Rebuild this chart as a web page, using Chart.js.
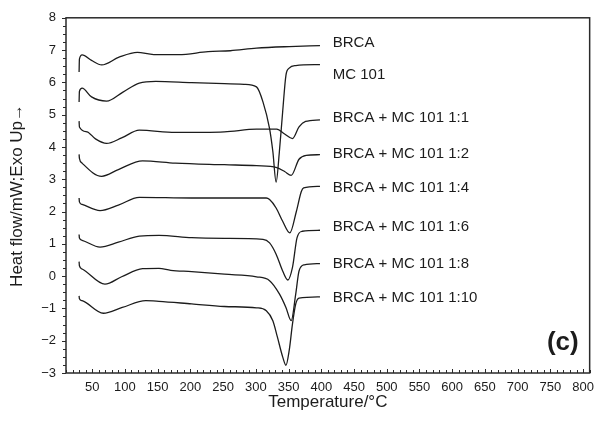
<!DOCTYPE html>
<html><head><meta charset="utf-8">
<script src="https://cdn.jsdelivr.net/npm/chart.js@4.4.0/dist/chart.umd.min.js"></script>
<style>html,body{margin:0;padding:0;background:#fff}#wrap{width:601px;height:423px}</style>
</head><body><div id="wrap"><canvas id="c" width="601" height="423"></canvas></div>
<script>
// ---- data (temperature °C, heat flow mW) ----
const seriesNames = ["BRCA","MC 101","BRCA + MC 101 1:1","BRCA + MC 101 1:2","BRCA + MC 101 1:4","BRCA + MC 101 1:6","BRCA + MC 101 1:8","BRCA + MC 101 1:10"];

const tBRCA = [30, 30.5, 34.6, 49, 64.5, 91, 119, 144, 182, 227, 261, 301, 351, 398];
const vBRCA = [6.32, 6.72, 6.85, 6.68, 6.54, 6.78, 6.93, 6.86, 6.86, 6.95, 6.98, 7.06, 7.11, 7.14];

const tMC = [30, 30.5, 34.6, 49, 72, 97, 122, 147, 202, 252, 282, 301, 311, 321, 326, 331, 336, 341, 346, 351, 361, 398];
const vMC = [5.39, 5.72, 5.82, 5.55, 5.42, 5.70, 5.98, 6.03, 5.99, 5.96, 5.94, 5.86, 5.39, 4.57, 3.86, 2.91, 3.86, 5.09, 6.22, 6.44, 6.52, 6.55];

const t11 = [30, 30.5, 42, 55, 72, 95, 122, 177, 252, 301, 321, 332, 344, 356, 366, 376, 398];
const v11 = [4.80, 4.62, 4.47, 4.25, 4.11, 4.28, 4.52, 4.45, 4.47, 4.55, 4.55, 4.55, 4.40, 4.26, 4.62, 4.79, 4.84];

const t12 = [30, 30.5, 34.6, 64.5, 90, 127, 177, 252, 301, 332, 344, 354, 366, 377, 398];
const v12 = [3.77, 3.65, 3.50, 3.09, 3.30, 3.57, 3.50, 3.45, 3.42, 3.36, 3.24, 3.12, 3.62, 3.74, 3.76];

const t14 = [30, 30.5, 34.6, 62, 90, 122, 202, 316, 321, 331, 341, 352, 362, 369.5, 373, 398];
const v14 = [2.42, 2.30, 2.22, 2.03, 2.20, 2.44, 2.42, 2.42, 2.37, 2.11, 1.70, 1.34, 2.01, 2.62, 2.73, 2.78];

const t16 = [30, 30.5, 34.6, 62, 90, 122, 152, 202, 252, 311, 321, 331, 341, 349, 356, 363, 371, 398];
const v16 = [1.29, 1.18, 1.11, 0.90, 1.05, 1.24, 1.26, 1.19, 1.17, 1.14, 1.03, 0.68, 0.16, -0.12, 0.27, 1.19, 1.39, 1.42];

const t18 = [30, 30.5, 34.6, 69.5, 95, 127, 152, 170, 202, 252, 301, 321, 336, 346, 354, 361, 366, 374, 398];
const v18 = [0.45, 0.32, 0.22, -0.25, -0.02, 0.23, 0.24, 0.18, 0.14, 0.06, -0.02, -0.14, -0.55, -0.97, -1.38, -0.55, 0.16, 0.35, 0.39];

const t110 = [30, 30.5, 34.6, 67, 96, 132, 152, 202, 252, 301, 316, 326, 333, 341, 346, 351, 356, 361, 366, 398];
const v110 = [-0.61, -0.70, -0.76, -1.15, -0.97, -0.76, -0.78, -0.86, -0.94, -0.98, -1.07, -1.38, -1.89, -2.50, -2.76, -2.30, -1.48, -0.86, -0.68, -0.64];

const xTicks = [50,100,150,200,250,300,350,400,450,500,550,600,650,700,750,800];
const yTicks = [-3,-2,-1,0,1,2,3,4,5,6,7,8];

// curve label anchors (data space)
const labelT = 417.5;
const labelV = [7.21, 6.22, 4.90, 3.80, 2.73, 1.53, 0.39, -0.66];
const panelText = "(c)";
const panelT = 769, panelV = -2.08;

const tArr = [tBRCA, tMC, t11, t12, t14, t16, t18, t110];
const vArr = [vBRCA, vMC, v11, v12, v14, v16, v18, v110];

const FONT = '"Liberation Sans", Arial, Helvetica, sans-serif';
const INK = '#1c1c1c';

const datasets = seriesNames.map((n, i) => ({
  label: n,
  data: tArr[i].map((t, j) => ({x: t, y: vArr[i][j]})),
  borderColor: INK,
  borderWidth: 1.3,
  pointRadius: 0,
  fill: false,
  cubicInterpolationMode: 'monotone'
}));

const decor = {
  id: 'decor',
  afterDraw(chart) {
    const {ctx, chartArea: a, scales: {x, y}} = chart;
    ctx.save();
    ctx.strokeStyle = '#2a2a2a';
    ctx.lineWidth = 1;
    ctx.beginPath();
    for (let k = 0; k <= 80; k++) {
      const t = 10 + 10 * k;
      const px = Math.round(x.getPixelForValue(t)) + 0.5;
      const len = xTicks.includes(t) ? 4 : 3;
      ctx.moveTo(px, a.bottom); ctx.lineTo(px, a.bottom - len);
    }
    for (let k = 0; k <= 44; k++) {
      const v = -3 + 0.25 * k;
      const py = Math.round(y.getPixelForValue(v)) + 0.5;
      const len = (k % 4 === 0) ? 4 : 3;
      ctx.moveTo(a.left, py); ctx.lineTo(a.left - len, py);
    }
    ctx.stroke();
    ctx.lineWidth = 1.5;
    ctx.strokeStyle = '#2a2a2a';
    ctx.strokeRect(a.left, a.top, a.right - a.left, a.bottom - a.top);

    ctx.fillStyle = INK;
    ctx.font = '15px ' + FONT;
    ctx.textAlign = 'left';
    ctx.textBaseline = 'middle';
    seriesNames.forEach((n, i) => {
      ctx.fillText(n, x.getPixelForValue(labelT), y.getPixelForValue(labelV[i]));
    });
    ctx.font = 'bold 26px ' + FONT;
    ctx.textAlign = 'center';
    ctx.fillText(panelText, x.getPixelForValue(panelT), y.getPixelForValue(panelV));
    ctx.restore();
  }
};

new Chart(document.getElementById('c'), {
  type: 'line',
  data: {datasets},
  options: {
    responsive: false,
    animation: false,
    layout: {padding: {top: 15, right: 3, left: 0, bottom: 0}},
    plugins: {legend: {display: false}, tooltip: {enabled: false}},
    scales: {
      x: {
        type: 'linear', min: 10, max: 810,
        afterBuildTicks: s => { s.ticks = xTicks.map(v => ({value: v})); },
        afterFit: s => { s.height = 50; },
        grid: {display: false, drawTicks: false},
        border: {display: false},
        ticks: {font: {size: 13, family: FONT}, color: INK, padding: 7, maxRotation: 0, autoSkip: false},
        title: {display: true, text: 'Temperature/°C', font: {size: 17, family: FONT}, color: INK, padding: {top: 0, bottom: 10}}
      },
      y: {
        type: 'linear', min: -3, max: 8,
        afterBuildTicks: s => { s.ticks = yTicks.map(v => ({value: v})); },
        afterFit: s => { s.width = 66; },
        grid: {display: false, drawTicks: false},
        border: {display: false},
        ticks: {font: {size: 13, family: FONT}, color: INK, padding: 10, autoSkip: false,
          callback: v => (v < 0 ? '\u2212' + Math.abs(v) : String(v))},
        title: {display: true, text: 'Heat flow/mW;Exo Up\u2192', font: {size: 17, family: FONT}, color: INK, padding: {top: 7, bottom: 0}}
      }
    }
  },
  plugins: [decor]
});
</script>
</body></html>
